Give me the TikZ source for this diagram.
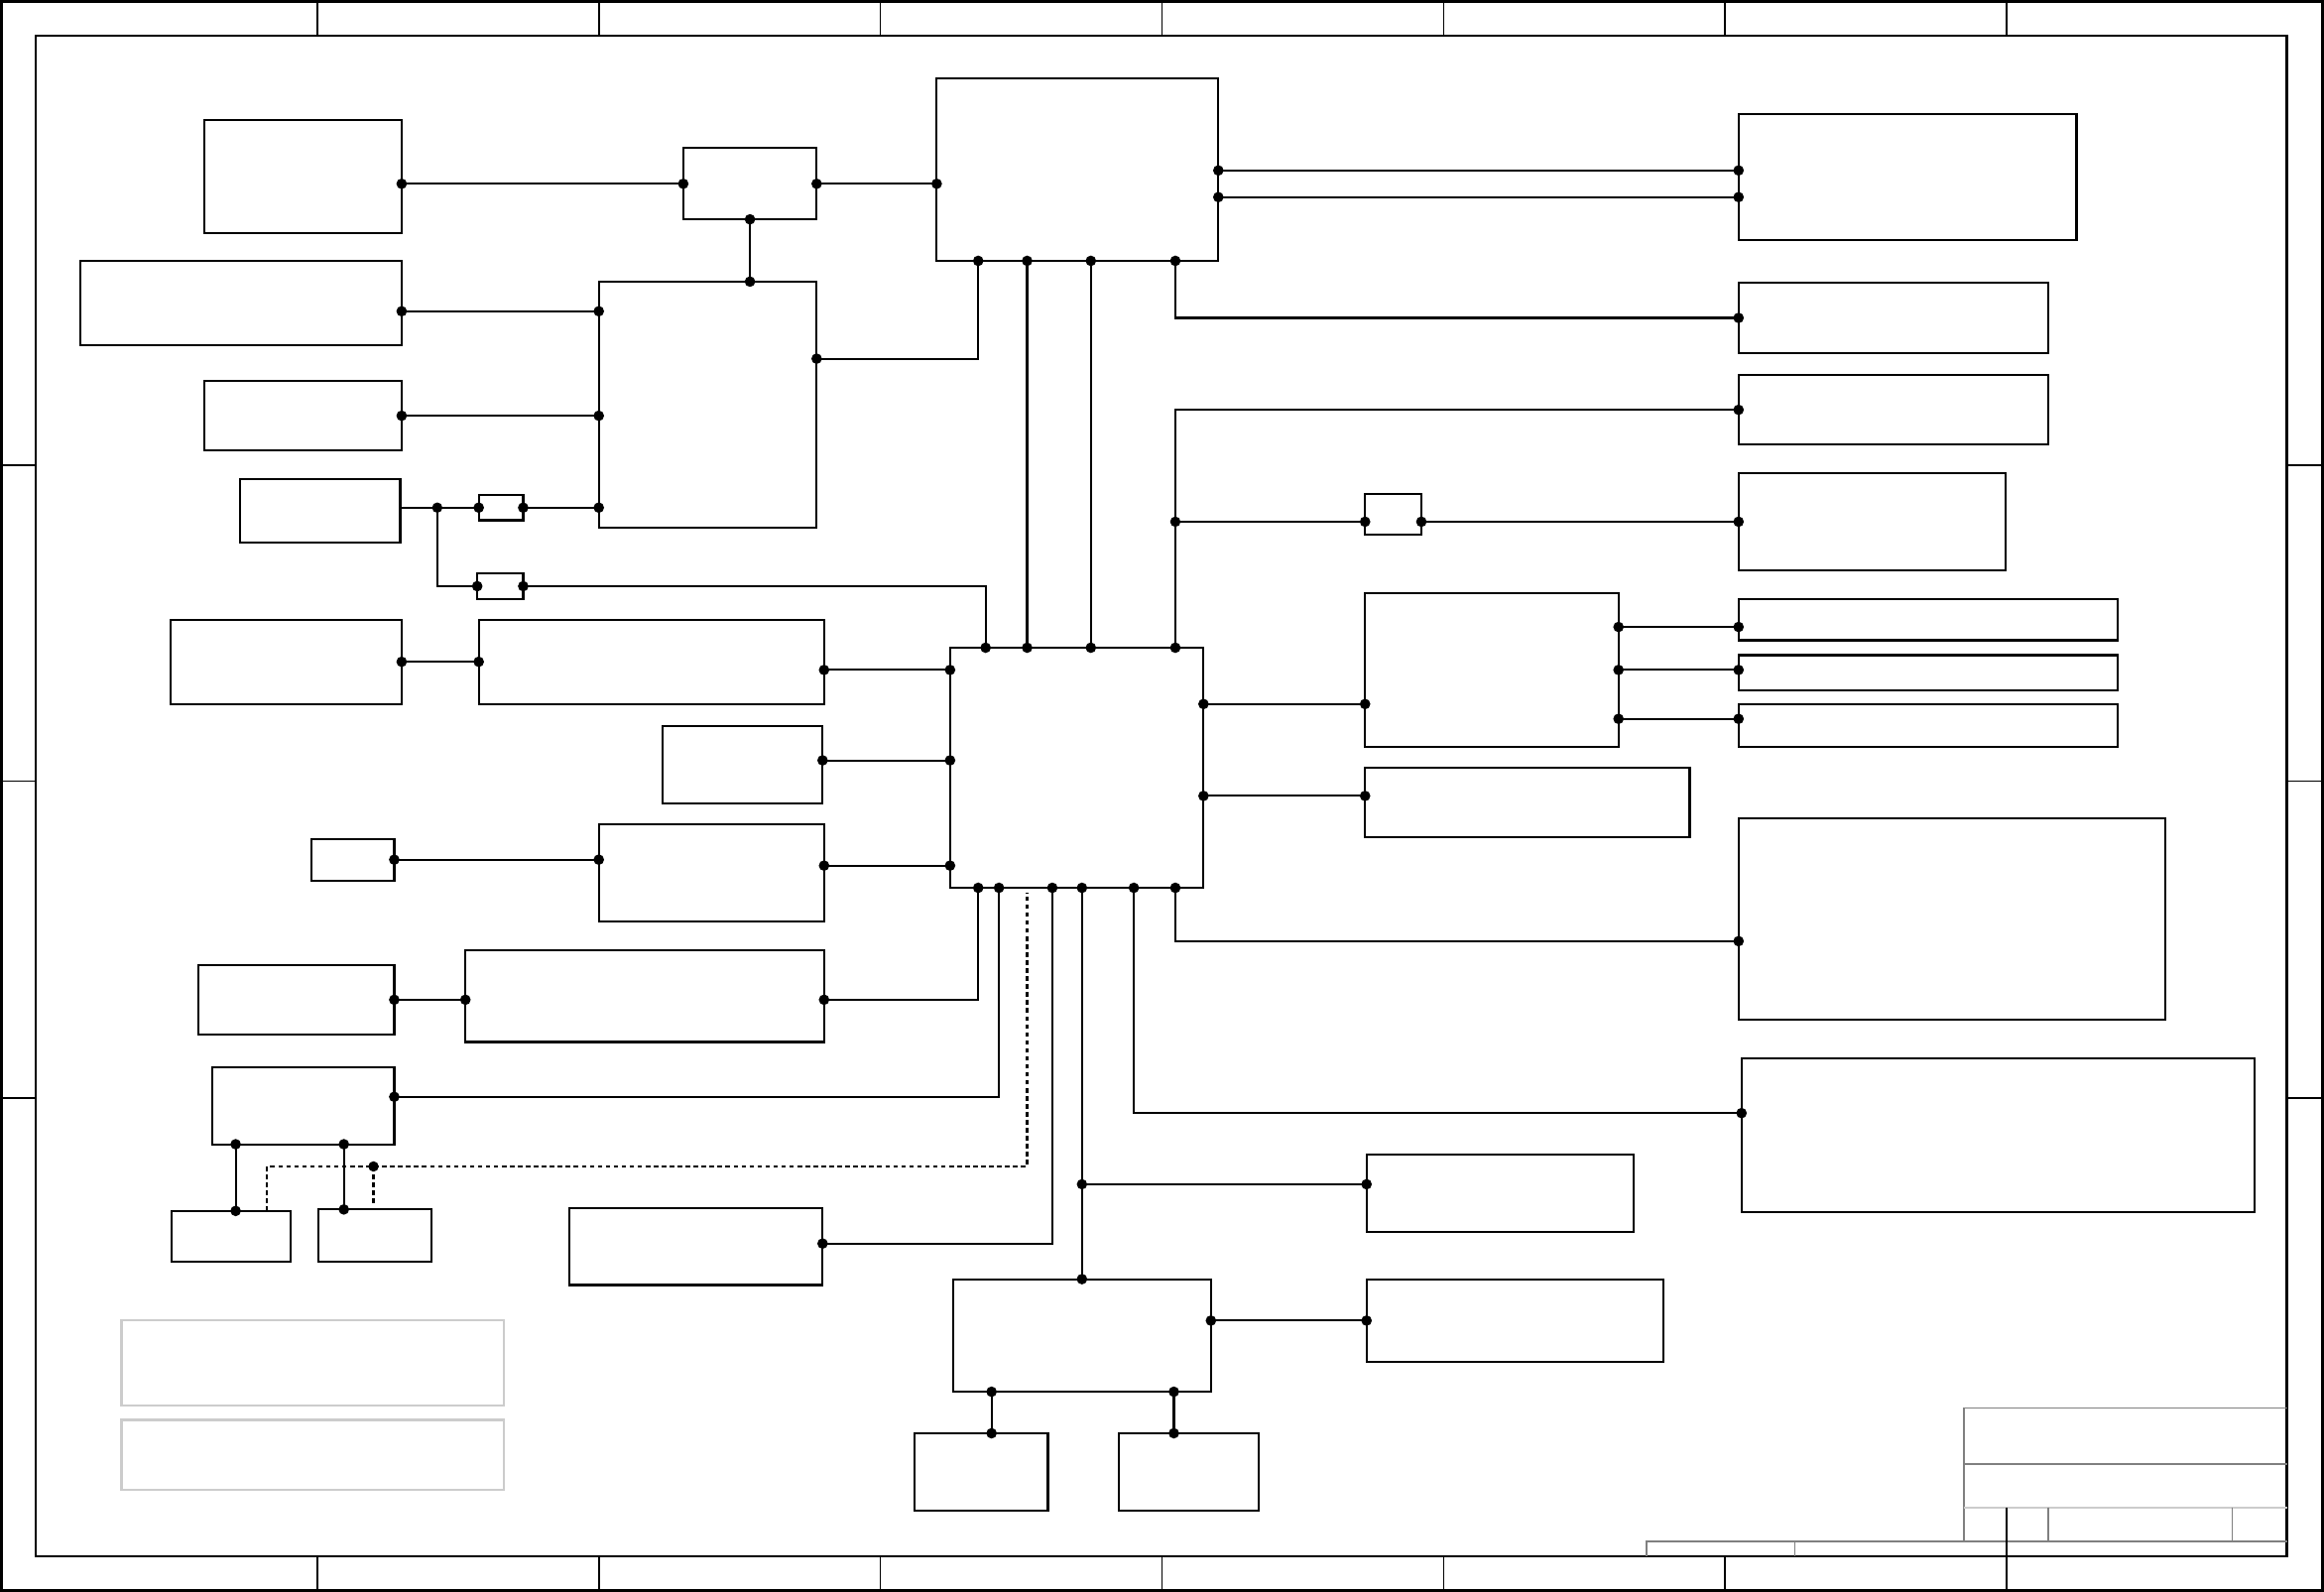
\documentclass[tikz,border=0pt]{standalone}
\usepackage{tikz}
\usetikzlibrary{calc, fit, arrows.meta}

\tikzset{
  blk/.style={draw, line width=0.6pt, inner sep=0pt, outer sep=0pt},
  memo/.style={draw=black!20, line width=0.6pt, inner sep=0pt, outer sep=0pt},
  wire/.style={line width=0.6pt, {Circle[length=3pt]}-{Circle[length=3pt]}, shorten <=-1.5pt, shorten >=-1.5pt},
  halfwire/.style={line width=0.6pt, -{Circle[length=3pt]}, shorten >=-1.5pt},
  sig/.style={line width=0.65pt, dash pattern=on 1.3pt off 1pt},
}

\begin{document}
\begin{tikzpicture}[x=0.15mm, y=-0.15mm]
      \useasboundingbox (0,0) rectangle (1568,1074);

      % 1. 圖框與分區刻度
      \draw[line width=0.7pt] (1,1) rectangle (1567,1073);
      \draw[line width=0.7pt] (24,24) rectangle (1543,1050);
      \foreach \x in {214,404,594,784,974,1164,1354} {
        \draw[line width=0.5pt] (\x,1) -- (\x,24);
        \draw[line width=0.5pt] (\x,1050) -- (\x,1073);
      }
      \foreach \y in {314,527,741} {
        \draw[line width=0.5pt] (1,\y) -- (24,\y);
        \draw[line width=0.5pt] (1543,\y) -- (1567,\y);
      }

      % 2. 標題欄
      \draw[black!50, line width=0.5pt] (1543,950) -- (1325,950) -- (1325,1040);
      \draw[black!50, line width=0.5pt] (1325,988) -- (1543,988);
      \draw[black!20, line width=0.5pt] (1325,1017) -- (1543,1017);
      \draw[black!50, line width=0.5pt] (1382,1017) -- (1382,1040) (1506,1017) -- (1506,1040);
      \draw[black!50, line width=0.5pt] (1111,1050) -- (1111,1040) -- (1543,1040) (1211,1040) -- (1211,1050);
      \draw[line width=0.5pt] (1354,1017) -- (1354,1050);
      \node[memo, fit={(82,891) (340,948)}] (memo1) {};
      \node[memo, fit={(82,958) (340,1005)}] (memo2) {};

      % 3. 左側方塊
      \node[blk, fit={(138,81) (271,157)}] (in1) {};
      \node[blk, fit={(54,176) (271,233)}] (in2) {};
      \node[blk, fit={(138,257) (271,304)}] (in3) {};
      \node[blk, fit={(162,323) (270,366)}] (in4) {};
      \node[blk, fit={(115,418) (271,475)}] (in5) {};
      \node[blk, fit={(210,566) (266,594)}] (in6) {};
      \node[blk, fit={(134,651) (266,698)}] (in7) {};
      \node[blk, fit={(143,720) (266,772)}] (in8) {};
      \node[blk, fit={(116,817) (196,851)}] (sub1) {};
      \node[blk, fit={(215,816) (291,851)}] (sub2) {};

      % 4. 中間方塊
      \node[blk, fit={(461,100) (551,148)}] (sw) {};
      \node[blk, fit={(323,334) (353,351)}] (fa) {};
      \node[blk, fit={(322,387) (353,404)}] (fb) {};
      \node[blk, fit={(404,190) (551,356)}] (reg) {};
      \node[blk, fit={(323,418) (556,475)}] (m1) {};
      \node[blk, fit={(447,490) (555,542)}] (m2) {};
      \node[blk, fit={(404,556) (556,622)}] (m3) {};
      \node[blk, fit={(314,641) (556,703)}] (m4) {};
      \node[blk, fit={(384,815) (555,867)}] (m5) {};
      \node[blk, fit={(632,53) (822,176)}] (hubT) {};
      \node[blk, fit={(641,437) (812,599)}] (hubC) {};
      \node[blk, fit={(643,863) (817,939)}] (hubB) {};
      \node[blk, fit={(617,967) (707,1019)}] (b1) {};
      \node[blk, fit={(755,967) (849,1019)}] (b2) {};

      % 5. 右側方塊
      \node[blk, fit={(921,333) (959,361)}] (fc) {};
      \node[blk, fit={(921,400) (1092,504)}] (ex) {};
      \node[blk, fit={(1173,77) (1401,162)}] (r1) {};
      \node[blk, fit={(1173,191) (1382,238)}] (r2) {};
      \node[blk, fit={(1173,253) (1382,300)}] (r3) {};
      \node[blk, fit={(1173,319) (1353,385)}] (r4) {};
      \node[blk, fit={(1173,404) (1429,432)}] (r5) {};
      \node[blk, fit={(1173,442) (1429,466)}] (r6) {};
      \node[blk, fit={(1173,475) (1429,504)}] (r7) {};
      \node[blk, fit={(921,518) (1140,565)}] (r8) {};
      \node[blk, fit={(1173,552) (1461,688)}] (r9) {};
      \node[blk, fit={(1175,714) (1521,818)}] (r10) {};
      \node[blk, fit={(922,779) (1102,831)}] (r11) {};
      \node[blk, fit={(922,863) (1122,919)}] (r12) {};

      % 6. 分歧點
      \coordinate (j1) at (fa.west -| 295,0);
      \coordinate (j2) at (793,352);
      \coordinate (j3) at (252,787);
      \coordinate (j4) at (hubB.north |- 0,799);

      % 7. 上半部連線
      \draw[wire] (in1.east |- sw.west) -- (sw.west);
      \draw[wire] (sw.east) -- (hubT.west |- sw.east);
      \draw[wire] (sw.south) -- (sw.south |- reg.north);
      \draw[wire] (in2.east |- 0,210) -- (reg.west |- 0,210);
      \draw[wire] (in3.east) -- (in3.east -| reg.west);
      \draw[halfwire] (in4.east |- fa.west) -- (fa.west);
      \draw[wire] (fa.east) -- (fa.east -| reg.west);
      \draw[halfwire] (j1) |- (fb.west);
      \draw[wire] (fb.east) -| (hubC.north -| 665,0);
      \draw[wire] (reg.east |- 0,242) -| (hubT.south -| 660,0);
      \draw[wire] (hubT.south -| 693,0) -- (hubC.north -| 693,0);
      \draw[wire] (hubT.south -| 736,0) -- (hubC.north -| 736,0);
      \draw[wire] (hubT.south -| 793,0) |- (r2.west);
      \draw[wire] (hubT.east |- 0,115) -- (r1.west |- 0,115);
      \draw[wire] (hubT.east |- 0,133) -- (r1.west |- 0,133);
      \draw[wire] (hubC.north -| 793,0) |- (r3.west);
      \draw[halfwire] (j2) -- (fc.west |- j2);
      \draw[wire] (fc.east |- j2) -- (r4.west |- j2);

      % 8. 下半部連線
      \draw[wire] (in5.east) -- (m1.west);
      \draw[wire] (m1.east |- 0,452) -- (hubC.west |- 0,452);
      \draw[wire] (m2.east |- 0,513) -- (hubC.west |- 0,513);
      \draw[wire] (in6.east) -- (in6.east -| m3.west);
      \draw[wire] (m3.east |- 0,584) -- (hubC.west |- 0,584);
      \draw[wire] (in7.east) -- (in7.east -| m4.west);
      \draw[wire] (m4.east |- in7.east) -| (hubC.south -| 660,0);
      \draw[wire] (in8.east |- 0,740) -| (hubC.south -| 674,0);
      \draw[wire] (in8.south -| 159,0) -- (sub1.north -| 159,0);
      \draw[wire] (in8.south -| 232,0) -- (sub2.north -| 232,0);
      \draw[sig] (sub1.north -| 180,0) |- (j3) -| ($(hubC.south -| 693,0)+(0,3)$);
      \draw[sig] (j3) -- ($(sub2.north -| j3)+(0,-3)$);
      \draw[wire] (m5.east |- 0,839) -| (hubC.south -| 710,0);
      \draw[wire] (hubC.south -| hubB.north) -- (hubB.north);
      \draw[halfwire] (j4) -- (r11.west |- j4);
      \draw[wire] (hubC.south -| 765,0) |- (r10.west |- 0,751);
      \draw[wire] (hubC.south -| 793,0) |- (r9.west |- 0,635);
      \draw[wire] (hubC.east |- 0,475) -- (ex.west |- 0,475);
      \draw[wire] (hubC.east |- 0,537) -- (r8.west |- 0,537);
      \draw[wire] (ex.east |- 0,423) -- (r5.west |- 0,423);
      \draw[wire] (ex.east |- 0,452) -- (r6.west |- 0,452);
      \draw[wire] (ex.east |- 0,485) -- (r7.west |- 0,485);
      \draw[wire] (hubB.east |- r12.west) -- (r12.west);
      \draw[wire] (hubB.south -| 669,0) -- (b1.north -| 669,0);
      \draw[wire] (hubB.south -| 792,0) -- (b2.north -| 792,0);

      \foreach \p in {j1,j2,j3,j4} \fill (\p) circle (1.5pt);
\end{tikzpicture}
\end{document}
